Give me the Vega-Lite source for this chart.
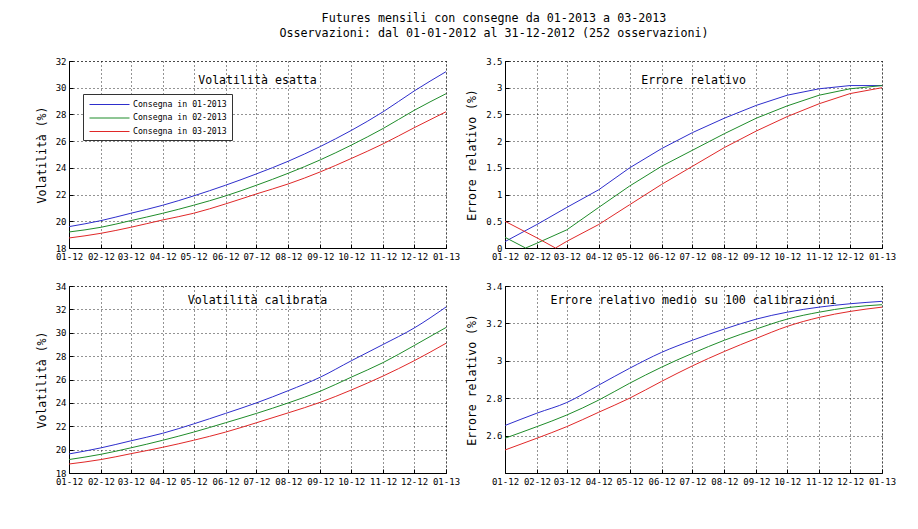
{
  "$schema": "https://vega.github.io/schema/vega-lite/v6.json",
  "background": "white",
  "padding": {"left": 35, "top": 12, "right": 5, "bottom": 5},
  "title": {
    "text": ["Futures mensili con consegne da 01-2013 a 03-2013", "Osservazioni: dal 01-01-2012 al 31-12-2012 (252 osservazioni)"],
    "anchor": "middle",
    "frame": "group",
    "dx": 425,
    "fontSize": 11.7,
    "lineHeight": 15,
    "offset": 17,
    "font": "DejaVu Sans Mono",
    "fontWeight": "normal",
    "color": "#000"
  },
  "config": {
    "font": "DejaVu Sans Mono",
    "view": {"stroke": "#000", "strokeDash": [1, 3], "strokeWidth": 1},
    "axis": {
      "domainColor": "#000",
      "tickColor": "#000",
      "labelColor": "#000",
      "labelFont": "DejaVu Sans Mono",
      "labelFontSize": 9,
      "titleFont": "DejaVu Sans Mono",
      "titleFontSize": 11.5,
      "titleFontWeight": "normal",
      "titleColor": "#000",
      "gridColor": "#000",
      "gridDash": [1, 3],
      "gridOpacity": 0.85,
      "tickSize": -4,
      "labelPadding": 7,
      "labelFlush": false,
      "labelOverlap": false,
      "titlePadding": 8
    },
    "axisX": {"labelPadding": 8},
    "title": {"font": "DejaVu Sans Mono", "fontWeight": "normal", "color": "#000", "fontSize": 11.6}
  },
  "datasets": {
    "ve": [
      {"d": "2012-01-01", "s": "Consegna in 01-2013", "v": 19.6},
      {"d": "2012-02-01", "s": "Consegna in 01-2013", "v": 20.05},
      {"d": "2012-03-01", "s": "Consegna in 01-2013", "v": 20.6},
      {"d": "2012-04-01", "s": "Consegna in 01-2013", "v": 21.2},
      {"d": "2012-05-01", "s": "Consegna in 01-2013", "v": 21.9},
      {"d": "2012-06-01", "s": "Consegna in 01-2013", "v": 22.7},
      {"d": "2012-07-01", "s": "Consegna in 01-2013", "v": 23.55},
      {"d": "2012-08-01", "s": "Consegna in 01-2013", "v": 24.5},
      {"d": "2012-09-01", "s": "Consegna in 01-2013", "v": 25.6},
      {"d": "2012-10-01", "s": "Consegna in 01-2013", "v": 26.8},
      {"d": "2012-11-01", "s": "Consegna in 01-2013", "v": 28.2},
      {"d": "2012-12-01", "s": "Consegna in 01-2013", "v": 29.75},
      {"d": "2013-01-01", "s": "Consegna in 01-2013", "v": 31.2},
      {"d": "2012-01-01", "s": "Consegna in 02-2013", "v": 19.2},
      {"d": "2012-02-01", "s": "Consegna in 02-2013", "v": 19.55},
      {"d": "2012-03-01", "s": "Consegna in 02-2013", "v": 20.05},
      {"d": "2012-04-01", "s": "Consegna in 02-2013", "v": 20.6},
      {"d": "2012-05-01", "s": "Consegna in 02-2013", "v": 21.2},
      {"d": "2012-06-01", "s": "Consegna in 02-2013", "v": 21.9},
      {"d": "2012-07-01", "s": "Consegna in 02-2013", "v": 22.7},
      {"d": "2012-08-01", "s": "Consegna in 02-2013", "v": 23.6},
      {"d": "2012-09-01", "s": "Consegna in 02-2013", "v": 24.6},
      {"d": "2012-10-01", "s": "Consegna in 02-2013", "v": 25.7},
      {"d": "2012-11-01", "s": "Consegna in 02-2013", "v": 26.95},
      {"d": "2012-12-01", "s": "Consegna in 02-2013", "v": 28.3},
      {"d": "2013-01-01", "s": "Consegna in 02-2013", "v": 29.55},
      {"d": "2012-01-01", "s": "Consegna in 03-2013", "v": 18.75},
      {"d": "2012-02-01", "s": "Consegna in 03-2013", "v": 19.1},
      {"d": "2012-03-01", "s": "Consegna in 03-2013", "v": 19.55},
      {"d": "2012-04-01", "s": "Consegna in 03-2013", "v": 20.1},
      {"d": "2012-05-01", "s": "Consegna in 03-2013", "v": 20.6},
      {"d": "2012-06-01", "s": "Consegna in 03-2013", "v": 21.3},
      {"d": "2012-07-01", "s": "Consegna in 03-2013", "v": 22.05},
      {"d": "2012-08-01", "s": "Consegna in 03-2013", "v": 22.8},
      {"d": "2012-09-01", "s": "Consegna in 03-2013", "v": 23.7},
      {"d": "2012-10-01", "s": "Consegna in 03-2013", "v": 24.7},
      {"d": "2012-11-01", "s": "Consegna in 03-2013", "v": 25.8},
      {"d": "2012-12-01", "s": "Consegna in 03-2013", "v": 27.0},
      {"d": "2013-01-01", "s": "Consegna in 03-2013", "v": 28.2}
    ],
    "er": [
      {"d": "2012-01-01", "s": "Consegna in 01-2013", "v": 0.12},
      {"d": "2012-02-01", "s": "Consegna in 01-2013", "v": 0.44},
      {"d": "2012-03-01", "s": "Consegna in 01-2013", "v": 0.76},
      {"d": "2012-04-01", "s": "Consegna in 01-2013", "v": 1.09},
      {"d": "2012-05-01", "s": "Consegna in 01-2013", "v": 1.5},
      {"d": "2012-06-01", "s": "Consegna in 01-2013", "v": 1.86},
      {"d": "2012-07-01", "s": "Consegna in 01-2013", "v": 2.16},
      {"d": "2012-08-01", "s": "Consegna in 01-2013", "v": 2.43},
      {"d": "2012-09-01", "s": "Consegna in 01-2013", "v": 2.67},
      {"d": "2012-10-01", "s": "Consegna in 01-2013", "v": 2.86},
      {"d": "2012-11-01", "s": "Consegna in 01-2013", "v": 2.98},
      {"d": "2012-12-01", "s": "Consegna in 01-2013", "v": 3.04},
      {"d": "2013-01-01", "s": "Consegna in 01-2013", "v": 3.04},
      {"d": "2012-01-01", "s": "Consegna in 02-2013", "v": 0.2},
      {"d": "2012-01-21", "s": "Consegna in 02-2013", "v": 0.0},
      {"d": "2012-02-01", "s": "Consegna in 02-2013", "v": 0.09},
      {"d": "2012-03-01", "s": "Consegna in 02-2013", "v": 0.34},
      {"d": "2012-04-01", "s": "Consegna in 02-2013", "v": 0.76},
      {"d": "2012-05-01", "s": "Consegna in 02-2013", "v": 1.16},
      {"d": "2012-06-01", "s": "Consegna in 02-2013", "v": 1.53},
      {"d": "2012-07-01", "s": "Consegna in 02-2013", "v": 1.83},
      {"d": "2012-08-01", "s": "Consegna in 02-2013", "v": 2.14},
      {"d": "2012-09-01", "s": "Consegna in 02-2013", "v": 2.43},
      {"d": "2012-10-01", "s": "Consegna in 02-2013", "v": 2.66},
      {"d": "2012-11-01", "s": "Consegna in 02-2013", "v": 2.86},
      {"d": "2012-12-01", "s": "Consegna in 02-2013", "v": 2.98},
      {"d": "2013-01-01", "s": "Consegna in 02-2013", "v": 3.04},
      {"d": "2012-01-01", "s": "Consegna in 03-2013", "v": 0.5},
      {"d": "2012-02-01", "s": "Consegna in 03-2013", "v": 0.19},
      {"d": "2012-02-19", "s": "Consegna in 03-2013", "v": 0.0},
      {"d": "2012-03-01", "s": "Consegna in 03-2013", "v": 0.125},
      {"d": "2012-04-01", "s": "Consegna in 03-2013", "v": 0.44},
      {"d": "2012-05-01", "s": "Consegna in 03-2013", "v": 0.81},
      {"d": "2012-06-01", "s": "Consegna in 03-2013", "v": 1.19},
      {"d": "2012-07-01", "s": "Consegna in 03-2013", "v": 1.53},
      {"d": "2012-08-01", "s": "Consegna in 03-2013", "v": 1.88},
      {"d": "2012-09-01", "s": "Consegna in 03-2013", "v": 2.19},
      {"d": "2012-10-01", "s": "Consegna in 03-2013", "v": 2.46},
      {"d": "2012-11-01", "s": "Consegna in 03-2013", "v": 2.7},
      {"d": "2012-12-01", "s": "Consegna in 03-2013", "v": 2.89},
      {"d": "2013-01-01", "s": "Consegna in 03-2013", "v": 3.0}
    ],
    "vc": [
      {"d": "2012-01-01", "s": "Consegna in 01-2013", "v": 19.63},
      {"d": "2012-02-01", "s": "Consegna in 01-2013", "v": 20.15},
      {"d": "2012-03-01", "s": "Consegna in 01-2013", "v": 20.75},
      {"d": "2012-04-01", "s": "Consegna in 01-2013", "v": 21.4},
      {"d": "2012-05-01", "s": "Consegna in 01-2013", "v": 22.2},
      {"d": "2012-06-01", "s": "Consegna in 01-2013", "v": 23.1},
      {"d": "2012-07-01", "s": "Consegna in 01-2013", "v": 24.0},
      {"d": "2012-08-01", "s": "Consegna in 01-2013", "v": 25.05},
      {"d": "2012-09-01", "s": "Consegna in 01-2013", "v": 26.2},
      {"d": "2012-10-01", "s": "Consegna in 01-2013", "v": 27.6},
      {"d": "2012-11-01", "s": "Consegna in 01-2013", "v": 29.0},
      {"d": "2012-12-01", "s": "Consegna in 01-2013", "v": 30.4},
      {"d": "2013-01-01", "s": "Consegna in 01-2013", "v": 32.2},
      {"d": "2012-01-01", "s": "Consegna in 02-2013", "v": 19.15},
      {"d": "2012-02-01", "s": "Consegna in 02-2013", "v": 19.6},
      {"d": "2012-03-01", "s": "Consegna in 02-2013", "v": 20.15},
      {"d": "2012-04-01", "s": "Consegna in 02-2013", "v": 20.8},
      {"d": "2012-05-01", "s": "Consegna in 02-2013", "v": 21.5},
      {"d": "2012-06-01", "s": "Consegna in 02-2013", "v": 22.3},
      {"d": "2012-07-01", "s": "Consegna in 02-2013", "v": 23.1},
      {"d": "2012-08-01", "s": "Consegna in 02-2013", "v": 24.0},
      {"d": "2012-09-01", "s": "Consegna in 02-2013", "v": 25.0},
      {"d": "2012-10-01", "s": "Consegna in 02-2013", "v": 26.2},
      {"d": "2012-11-01", "s": "Consegna in 02-2013", "v": 27.45},
      {"d": "2012-12-01", "s": "Consegna in 02-2013", "v": 28.9},
      {"d": "2013-01-01", "s": "Consegna in 02-2013", "v": 30.45},
      {"d": "2012-01-01", "s": "Consegna in 03-2013", "v": 18.77},
      {"d": "2012-02-01", "s": "Consegna in 03-2013", "v": 19.15},
      {"d": "2012-03-01", "s": "Consegna in 03-2013", "v": 19.65},
      {"d": "2012-04-01", "s": "Consegna in 03-2013", "v": 20.2},
      {"d": "2012-05-01", "s": "Consegna in 03-2013", "v": 20.8},
      {"d": "2012-06-01", "s": "Consegna in 03-2013", "v": 21.5},
      {"d": "2012-07-01", "s": "Consegna in 03-2013", "v": 22.3},
      {"d": "2012-08-01", "s": "Consegna in 03-2013", "v": 23.15},
      {"d": "2012-09-01", "s": "Consegna in 03-2013", "v": 24.05},
      {"d": "2012-10-01", "s": "Consegna in 03-2013", "v": 25.1},
      {"d": "2012-11-01", "s": "Consegna in 03-2013", "v": 26.3},
      {"d": "2012-12-01", "s": "Consegna in 03-2013", "v": 27.6},
      {"d": "2013-01-01", "s": "Consegna in 03-2013", "v": 29.1}
    ],
    "erm": [
      {"d": "2012-01-01", "s": "Consegna in 01-2013", "v": 2.654},
      {"d": "2012-02-01", "s": "Consegna in 01-2013", "v": 2.72},
      {"d": "2012-03-01", "s": "Consegna in 01-2013", "v": 2.777},
      {"d": "2012-04-01", "s": "Consegna in 01-2013", "v": 2.87},
      {"d": "2012-05-01", "s": "Consegna in 01-2013", "v": 2.96},
      {"d": "2012-06-01", "s": "Consegna in 01-2013", "v": 3.045},
      {"d": "2012-07-01", "s": "Consegna in 01-2013", "v": 3.11},
      {"d": "2012-08-01", "s": "Consegna in 01-2013", "v": 3.17},
      {"d": "2012-09-01", "s": "Consegna in 01-2013", "v": 3.223},
      {"d": "2012-10-01", "s": "Consegna in 01-2013", "v": 3.26},
      {"d": "2012-11-01", "s": "Consegna in 01-2013", "v": 3.287},
      {"d": "2012-12-01", "s": "Consegna in 01-2013", "v": 3.305},
      {"d": "2013-01-01", "s": "Consegna in 01-2013", "v": 3.318},
      {"d": "2012-01-01", "s": "Consegna in 02-2013", "v": 2.586},
      {"d": "2012-02-01", "s": "Consegna in 02-2013", "v": 2.648},
      {"d": "2012-03-01", "s": "Consegna in 02-2013", "v": 2.71},
      {"d": "2012-04-01", "s": "Consegna in 02-2013", "v": 2.79},
      {"d": "2012-05-01", "s": "Consegna in 02-2013", "v": 2.88},
      {"d": "2012-06-01", "s": "Consegna in 02-2013", "v": 2.966},
      {"d": "2012-07-01", "s": "Consegna in 02-2013", "v": 3.04},
      {"d": "2012-08-01", "s": "Consegna in 02-2013", "v": 3.11},
      {"d": "2012-09-01", "s": "Consegna in 02-2013", "v": 3.17},
      {"d": "2012-10-01", "s": "Consegna in 02-2013", "v": 3.223},
      {"d": "2012-11-01", "s": "Consegna in 02-2013", "v": 3.26},
      {"d": "2012-12-01", "s": "Consegna in 02-2013", "v": 3.286},
      {"d": "2013-01-01", "s": "Consegna in 02-2013", "v": 3.3},
      {"d": "2012-01-01", "s": "Consegna in 03-2013", "v": 2.523},
      {"d": "2012-02-01", "s": "Consegna in 03-2013", "v": 2.586},
      {"d": "2012-03-01", "s": "Consegna in 03-2013", "v": 2.648},
      {"d": "2012-04-01", "s": "Consegna in 03-2013", "v": 2.725},
      {"d": "2012-05-01", "s": "Consegna in 03-2013", "v": 2.8},
      {"d": "2012-06-01", "s": "Consegna in 03-2013", "v": 2.89},
      {"d": "2012-07-01", "s": "Consegna in 03-2013", "v": 2.973},
      {"d": "2012-08-01", "s": "Consegna in 03-2013", "v": 3.05},
      {"d": "2012-09-01", "s": "Consegna in 03-2013", "v": 3.12},
      {"d": "2012-10-01", "s": "Consegna in 03-2013", "v": 3.184},
      {"d": "2012-11-01", "s": "Consegna in 03-2013", "v": 3.232},
      {"d": "2012-12-01", "s": "Consegna in 03-2013", "v": 3.264},
      {"d": "2013-01-01", "s": "Consegna in 03-2013", "v": 3.287}
    ]
  },
  "columns": 2,
  "spacing": {"row": 38, "column": 59},
  "bounds": "flush",
  "resolve": {"scale": {"color": "independent", "x": "independent", "y": "independent"}, "legend": {"color": "independent"}},
  "concat": [
    {
      "width": 377, "height": 187,
      "data": {"name": "ve"},
      "title": {"text": "Volatilità esatta", "offset": -30},
      "mark": {"type": "line", "strokeWidth": 1, "interpolate": "monotone"},
      "encoding": {
        "x": {"field": "d", "type": "temporal", "scale": {"type": "utc", "domain": ["2012-01-01", "2013-01-01"], "nice": false}, "axis": {"labelExpr": "utcFormat(datum.value, '%m-%y')", "tickCount": {"interval": "month", "step": 1}, "title": null}},
        "y": {"field": "v", "type": "quantitative", "scale": {"domain": [18, 32], "nice": false, "zero": false}, "axis": {"title": "Volatilità (%)", "values": [18, 20, 22, 24, 26, 28, 30, 32]}},
        "color": {"field": "s", "type": "nominal", "scale": {"domain": ["Consegna in 01-2013", "Consegna in 02-2013", "Consegna in 03-2013"], "range": ["#2e2ecc", "#1f8c2a", "#e02828"]},
          "legend": {"orient": "none", "legendX": 14, "legendY": 33, "title": null, "fillColor": "#fff", "strokeColor": "#333", "padding": 5, "symbolType": "M-4,0H4", "symbolSize": 100, "symbolStrokeWidth": 1, "symbolOffset": 16, "labelOffset": 18, "labelFontSize": 8.2, "labelFont": "DejaVu Sans Mono", "labelColor": "#000", "rowPadding": 4.5}}
      }
    },
    {
      "width": 377, "height": 187,
      "data": {"name": "er"},
      "title": {"text": "Errore relativo", "offset": -30},
      "mark": {"type": "line", "strokeWidth": 1},
      "encoding": {
        "x": {"field": "d", "type": "temporal", "scale": {"type": "utc", "domain": ["2012-01-01", "2013-01-01"], "nice": false}, "axis": {"labelExpr": "utcFormat(datum.value, '%m-%y')", "tickCount": {"interval": "month", "step": 1}, "title": null}},
        "y": {"field": "v", "type": "quantitative", "scale": {"domain": [0, 3.5], "nice": false}, "axis": {"title": "Errore relativo (%)", "values": [0, 0.5, 1, 1.5, 2, 2.5, 3, 3.5], "format": "~g"}},
        "color": {"field": "s", "type": "nominal", "scale": {"domain": ["Consegna in 01-2013", "Consegna in 02-2013", "Consegna in 03-2013"], "range": ["#2e2ecc", "#1f8c2a", "#e02828"]}, "legend": null}
      }
    },
    {
      "width": 377, "height": 187,
      "data": {"name": "vc"},
      "title": {"text": "Volatilità calibrata", "offset": -25},
      "mark": {"type": "line", "strokeWidth": 1, "interpolate": "monotone"},
      "encoding": {
        "x": {"field": "d", "type": "temporal", "scale": {"type": "utc", "domain": ["2012-01-01", "2013-01-01"], "nice": false}, "axis": {"labelExpr": "utcFormat(datum.value, '%m-%y')", "tickCount": {"interval": "month", "step": 1}, "title": null}},
        "y": {"field": "v", "type": "quantitative", "scale": {"domain": [18, 34], "nice": false, "zero": false}, "axis": {"title": "Volatilità (%)", "values": [18, 20, 22, 24, 26, 28, 30, 32, 34]}},
        "color": {"field": "s", "type": "nominal", "scale": {"domain": ["Consegna in 01-2013", "Consegna in 02-2013", "Consegna in 03-2013"], "range": ["#2e2ecc", "#1f8c2a", "#e02828"]}, "legend": null}
      }
    },
    {
      "width": 377, "height": 187,
      "data": {"name": "erm"},
      "title": {"text": "Errore relativo medio su 100 calibrazioni", "offset": -25},
      "mark": {"type": "line", "strokeWidth": 1, "interpolate": "monotone"},
      "encoding": {
        "x": {"field": "d", "type": "temporal", "scale": {"type": "utc", "domain": ["2012-01-01", "2013-01-01"], "nice": false}, "axis": {"labelExpr": "utcFormat(datum.value, '%m-%y')", "tickCount": {"interval": "month", "step": 1}, "title": null}},
        "y": {"field": "v", "type": "quantitative", "scale": {"domain": [2.4, 3.4], "nice": false, "zero": false}, "axis": {"title": "Errore relativo (%)", "values": [2.6, 2.8, 3, 3.2, 3.4], "format": "~g"}},
        "color": {"field": "s", "type": "nominal", "scale": {"domain": ["Consegna in 01-2013", "Consegna in 02-2013", "Consegna in 03-2013"], "range": ["#2e2ecc", "#1f8c2a", "#e02828"]}, "legend": null}
      }
    }
  ]
}
